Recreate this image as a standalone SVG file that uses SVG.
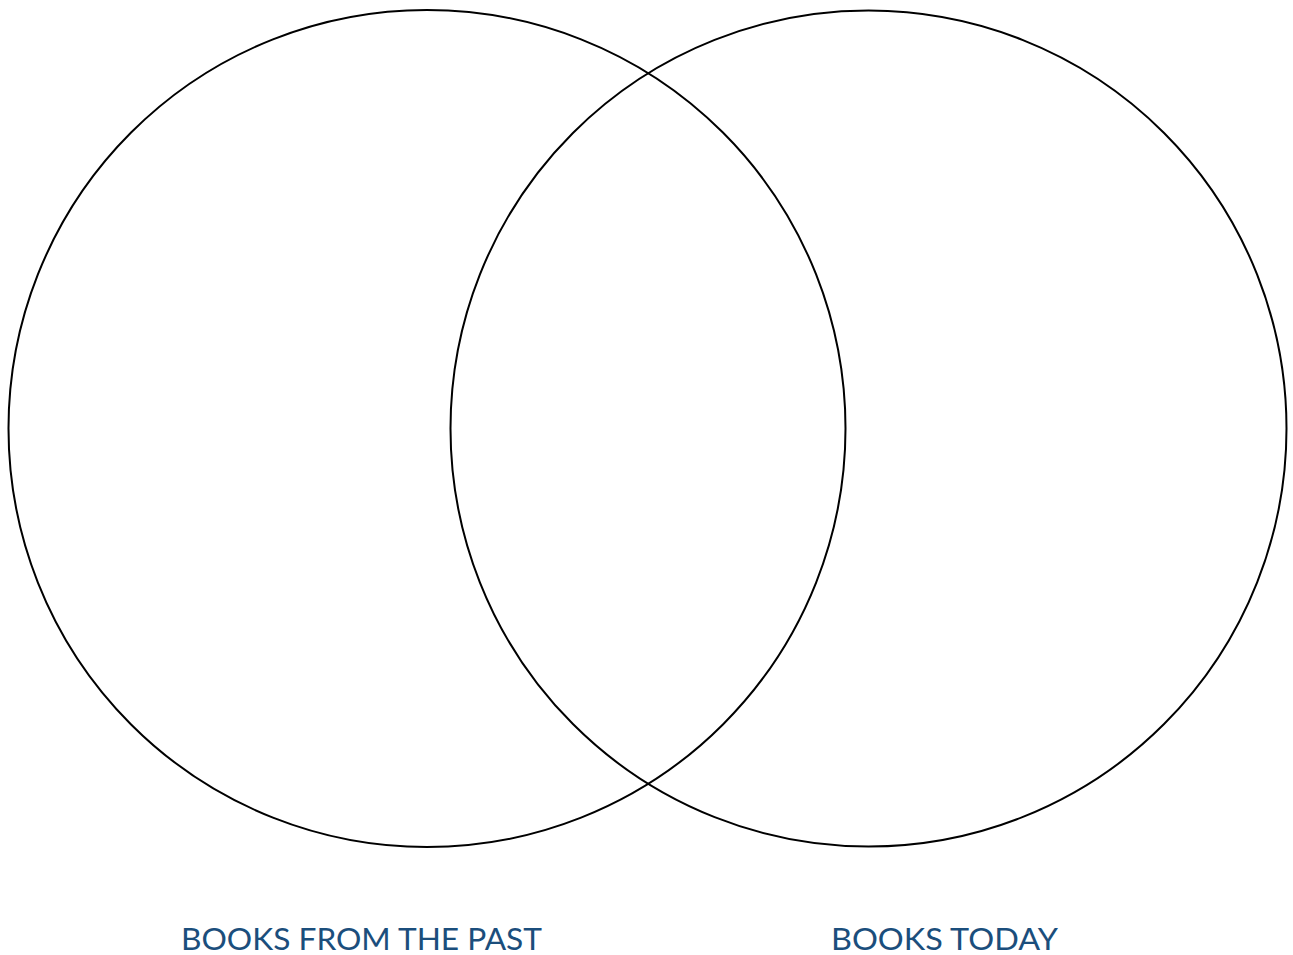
<svg xmlns="http://www.w3.org/2000/svg" width="1293" height="955" viewBox="0 0 1293 955">
<style>
.ring{fill:none;stroke:#000;stroke-width:2}
.lbl{font-family:Lato,"Noto Sans","Liberation Sans",sans-serif;font-size:30px;fill:#1b4e7c}
</style>
<rect width="1293" height="955" fill="#fff"/>
<g id="past">
<circle class="ring" cx="427" cy="428.5" r="418.5"/>
</g>
<g id="today">
<circle class="ring" cx="868.5" cy="428.5" r="418"/>
</g>
<g id="labels">
<text class="lbl" x="181" y="949.5" textLength="361" lengthAdjust="spacingAndGlyphs">BOOKS FROM THE PAST</text>
<text class="lbl" x="831" y="949.5" textLength="227" lengthAdjust="spacingAndGlyphs">BOOKS TODAY</text>
</g>
<g id="connectors"></g>
</svg>
